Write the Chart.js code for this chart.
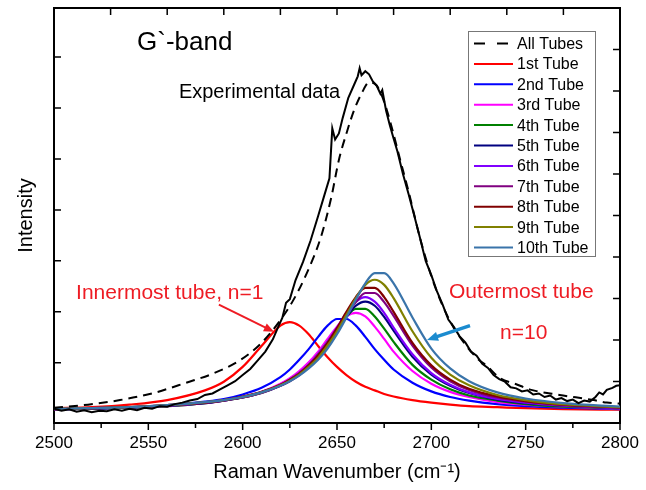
<!DOCTYPE html>
<html>
<head>
<meta charset="utf-8">
<script src="https://cdn.jsdelivr.net/npm/chart.js@4.4.1/dist/chart.umd.min.js"></script>
<style>
  html, body { margin: 0; padding: 0; background: #fff; }
  canvas { display: block; }
</style>
</head>
<body>
<canvas id="chart" width="646" height="490"></canvas>
<script>
// Wavenumber grid (cm-1) of the fitted tube components
const tubeWavenumbers = [2500, 2520, 2540, 2560, 2580, 2590, 2600, 2610, 2620, 2625, 2630, 2635, 2640, 2645, 2650,
  2655, 2660, 2665, 2670, 2675, 2680, 2690, 2700, 2710, 2720, 2735, 2750, 2770, 2800]

const tube1 = [0.11, 0.13, 0.18, 0.27, 0.46, 0.63, 0.92, 1.33, 1.73, 1.80, 1.73, 1.56, 1.33, 1.11, 0.92, 0.76, 0.63, 0.53, 0.46, 0.39, 0.34, 0.27, 0.22, 0.18, 0.15, 0.13, 0.11, 0.09, 0.08]
const tube2 = [0.09, 0.10, 0.13, 0.17, 0.24, 0.29, 0.38, 0.51, 0.72, 0.87, 1.06, 1.27, 1.51, 1.73, 1.86, 1.86, 1.73, 1.51, 1.27, 1.06, 0.87, 0.61, 0.44, 0.33, 0.26, 0.19, 0.15, 0.12, 0.09]
const tube3 = [0.09, 0.10, 0.12, 0.15, 0.21, 0.26, 0.33, 0.43, 0.59, 0.70, 0.84, 1.01, 1.22, 1.47, 1.71, 1.91, 1.98, 1.91, 1.71, 1.47, 1.22, 0.84, 0.59, 0.43, 0.33, 0.23, 0.18, 0.14, 0.10]
const tube4 = [0.09, 0.10, 0.12, 0.15, 0.21, 0.26, 0.32, 0.42, 0.56, 0.67, 0.80, 0.96, 1.17, 1.41, 1.67, 1.91, 2.06, 2.06, 1.91, 1.67, 1.41, 0.96, 0.67, 0.48, 0.36, 0.26, 0.19, 0.14, 0.11]
const tube5 = [0.09, 0.10, 0.12, 0.16, 0.21, 0.26, 0.32, 0.41, 0.55, 0.65, 0.77, 0.93, 1.12, 1.36, 1.63, 1.90, 2.12, 2.20, 2.12, 1.90, 1.63, 1.12, 0.77, 0.55, 0.41, 0.28, 0.21, 0.16, 0.11]
const tube6 = [0.09, 0.11, 0.13, 0.16, 0.22, 0.27, 0.33, 0.42, 0.57, 0.67, 0.80, 0.96, 1.17, 1.41, 1.69, 1.98, 2.20, 2.29, 2.20, 1.98, 1.69, 1.17, 0.80, 0.57, 0.42, 0.29, 0.22, 0.16, 0.11]
const tube7 = [0.09, 0.11, 0.13, 0.16, 0.22, 0.26, 0.32, 0.41, 0.55, 0.64, 0.76, 0.91, 1.10, 1.34, 1.62, 1.92, 2.19, 2.37, 2.37, 2.19, 1.92, 1.34, 0.91, 0.64, 0.47, 0.32, 0.24, 0.17, 0.12]
const tube8 = [0.09, 0.11, 0.13, 0.17, 0.22, 0.27, 0.34, 0.43, 0.57, 0.67, 0.79, 0.95, 1.15, 1.39, 1.68, 2.00, 2.29, 2.47, 2.47, 2.29, 2.00, 1.39, 0.95, 0.67, 0.49, 0.34, 0.25, 0.18, 0.12]
const tube9 = [0.10, 0.11, 0.13, 0.17, 0.23, 0.27, 0.33, 0.42, 0.56, 0.65, 0.77, 0.92, 1.10, 1.34, 1.62, 1.94, 2.27, 2.53, 2.63, 2.53, 2.27, 1.62, 1.10, 0.77, 0.56, 0.37, 0.27, 0.19, 0.13]
const tube10 = [0.10, 0.11, 0.13, 0.17, 0.23, 0.27, 0.33, 0.42, 0.55, 0.64, 0.75, 0.89, 1.06, 1.28, 1.56, 1.89, 2.24, 2.56, 2.76, 2.76, 2.56, 1.89, 1.28, 0.89, 0.64, 0.42, 0.30, 0.21, 0.14]

const tubeValues = [tube1, tube2, tube3, tube4, tube5, tube6, tube7, tube8, tube9, tube10]
const tubeLabels = ["1st Tube", "2nd Tube", "3rd Tube", "4th Tube", "5th Tube", "6th Tube", "7th Tube", "8th Tube", "9th Tube", "10th Tube"]
const tubeColors = ["#ff0000", "#0000ff", "#ff00ff", "#008000", "#000080", "#8000ff", "#800080", "#800000", "#808000", "#3a74aa"]

// Sum of all tube components (dashed)
const sumWavenumbers = [2500, 2518, 2535, 2553, 2570, 2585, 2599, 2610, 2620, 2627, 2634, 2641.5, 2647, 2651, 2655, 2659, 2663, 2667,
  2671, 2675, 2679, 2683, 2688, 2694, 2700, 2706, 2712, 2718, 2724, 2730, 2736, 2745, 2753, 2768, 2786, 2793, 2800]
const sumIntensity = [0.12, 0.18, 0.27, 0.41, 0.61, 0.80, 1.06, 1.39, 1.84, 2.24, 2.76, 3.47, 4.25, 4.98, 5.50, 5.95, 6.28, 6.50,
  6.44, 6.12, 5.62, 5.05, 4.35, 3.45, 2.70, 2.12, 1.68, 1.36, 1.10, 0.92, 0.71, 0.58, 0.47, 0.37, 0.27, 0.22, 0.20]

// Measured spectrum
const expWavenumbers = [2500, 2504, 2508, 2512, 2516, 2520, 2524, 2528, 2532, 2536, 2540, 2544, 2548, 2552, 2556, 2560, 2564, 2568,
  2572, 2576, 2580, 2584, 2588, 2592, 2596, 2600, 2604, 2608, 2612, 2616, 2619, 2621, 2623, 2625, 2628, 2632, 2636, 2640, 2643, 2646,
  2647.5, 2649, 2651, 2653, 2656, 2659, 2661, 2662, 2663, 2665, 2667, 2669, 2671, 2673, 2674, 2676, 2678, 2680, 2682, 2685, 2688,
  2691, 2694, 2697, 2700, 2703, 2706, 2709, 2712, 2715, 2718, 2721, 2724, 2727, 2730, 2733, 2736, 2739, 2742, 2745, 2748, 2751,
  2754, 2757, 2760, 2763, 2766, 2769, 2772, 2775, 2778, 2781, 2784, 2787, 2789, 2791, 2793, 2796, 2798, 2800]
const expIntensity = [0.10, 0.06, 0.09, 0.04, 0.07, 0.03, 0.06, 0.05, 0.09, 0.06, 0.10, 0.07, 0.12, 0.10, 0.15, 0.14, 0.19, 0.22,
  0.26, 0.29, 0.37, 0.40, 0.48, 0.56, 0.64, 0.76, 0.88, 1.05, 1.22, 1.46, 1.72, 1.88, 2.18, 2.25, 2.62, 2.98, 3.40, 3.88, 4.25, 4.62,
  5.60, 5.38, 5.50, 5.80, 6.20, 6.45, 6.62, 6.78, 6.64, 6.72, 6.66, 6.52, 6.44, 6.28, 6.35, 5.95, 5.66, 5.40, 5.15, 4.70, 4.30,
  3.88, 3.45, 3.00, 2.72, 2.40, 2.14, 1.85, 1.70, 1.52, 1.40, 1.22, 1.14, 0.98, 0.90, 0.76, 0.68, 0.63, 0.52, 0.50, 0.44, 0.46,
  0.38, 0.40, 0.33, 0.36, 0.28, 0.31, 0.25, 0.28, 0.21, 0.26, 0.24, 0.33, 0.42, 0.38, 0.47, 0.51, 0.55, 0.56]

const FONT = "'Liberation Sans', Arial, sans-serif"

const toPoints = (xs, ys) => xs.map((x, i) => ({ x, y: ys[i] }))

const datasets = [
  { label: "Experimental data", data: toPoints(expWavenumbers, expIntensity), borderColor: "#000", borderWidth: 2, tension: 0, order: 0 },
  { label: "All Tubes", data: toPoints(sumWavenumbers, sumIntensity), borderColor: "#000", borderWidth: 2,
    borderDash: [9, 6], cubicInterpolationMode: "monotone", order: 1, inLegend: true, legendDash: [11, 12] }
]
tubeValues.forEach((values, i) => {
  datasets.push({
    label: tubeLabels[i], data: toPoints(tubeWavenumbers, values), borderColor: tubeColors[i], borderWidth: 2.2,
    cubicInterpolationMode: "monotone", order: 12 - i, inLegend: true
  })
})

// Origin-style tick marks: outward on the bottom axis, inward on the others
const tickMarks = {
  id: "tickMarks",
  afterDraw(chart) {
    const { ctx, chartArea: a, scales } = chart
    ctx.save()
    ctx.strokeStyle = "#000"
    ctx.lineWidth = 1.5
    ctx.beginPath()
    scales.x.ticks.forEach(t => {
      const px = scales.x.getPixelForValue(t.value)
      const len = t.value % 50 === 0 ? 7 : 5
      ctx.moveTo(px, a.bottom)
      ctx.lineTo(px, a.bottom + len)
    })
    scales.x2.ticks.forEach(t => {
      if (t.value <= scales.x2.min || t.value >= scales.x2.max) return
      const px = scales.x2.getPixelForValue(t.value)
      ctx.moveTo(px, a.top)
      ctx.lineTo(px, a.top + 7)
    })
    scales.y.ticks.forEach(t => {
      if (!Number.isInteger(t.value) || t.value < 1) return
      const py = scales.y.getPixelForValue(t.value)
      ctx.moveTo(a.left, py)
      ctx.lineTo(a.left + 7, py)
    })
    scales.y2.ticks.forEach(t => {
      if (t.value <= scales.y2.min || t.value >= scales.y2.max) return
      const py = scales.y2.getPixelForValue(t.value)
      ctx.moveTo(a.right, py)
      ctx.lineTo(a.right - 7, py)
    })
    ctx.stroke()
    ctx.restore()
  }
}

// Boxed legend in the upper right corner of the plot
const boxLegend = {
  id: "boxLegend",
  afterDatasetsDraw(chart) {
    const { ctx, chartArea: a } = chart
    const items = chart.data.datasets.filter(d => d.inLegend)
    const left = a.right - 152
    const top = a.top + 23
    const rowH = 20.4
    ctx.save()
    ctx.fillStyle = "#fff"
    ctx.fillRect(left, top, 127, 225)
    ctx.strokeStyle = "#777"
    ctx.lineWidth = 1
    ctx.strokeRect(left + 0.5, top + 0.5, 127, 225)
    ctx.font = "16px " + FONT
    ctx.textBaseline = "middle"
    items.forEach((d, i) => {
      const y = top + 12.5 + i * rowH
      ctx.strokeStyle = d.borderColor
      ctx.lineWidth = 2
      ctx.setLineDash(d.legendDash || [])
      ctx.beginPath()
      ctx.moveTo(left + 6, y)
      ctx.lineTo(left + 45, y)
      ctx.stroke()
      ctx.setLineDash([])
      ctx.fillStyle = "#000"
      ctx.fillText(d.label, left + 49, y + 1)
    })
    ctx.restore()
  }
}

function arrow(ctx, x1, y1, x2, y2, color, width, head) {
  const ang = Math.atan2(y2 - y1, x2 - x1)
  ctx.strokeStyle = color
  ctx.fillStyle = color
  ctx.lineWidth = width
  ctx.beginPath()
  ctx.moveTo(x1, y1)
  ctx.lineTo(x2 - Math.cos(ang) * head * 0.8, y2 - Math.sin(ang) * head * 0.8)
  ctx.stroke()
  ctx.beginPath()
  ctx.moveTo(x2, y2)
  ctx.lineTo(x2 - head * Math.cos(ang - 0.4), y2 - head * Math.sin(ang - 0.4))
  ctx.lineTo(x2 - head * Math.cos(ang + 0.4), y2 - head * Math.sin(ang + 0.4))
  ctx.closePath()
  ctx.fill()
}

// Text labels and arrows, placed in data coordinates
const annotations = {
  id: "annotations",
  afterDatasetsDraw(chart) {
    const { ctx, scales: { x, y } } = chart
    const X = v => x.getPixelForValue(v)
    const Y = v => y.getPixelForValue(v)
    ctx.save()
    ctx.textBaseline = "middle"
    ctx.fillStyle = "#000"
    ctx.font = "26px " + FONT
    ctx.fillText("G`-band", X(2544), Y(7.27))
    ctx.font = "20px " + FONT
    ctx.fillText("Experimental data", X(2566.2), Y(6.31))
    ctx.fillStyle = "#ee1c24"
    ctx.font = "21px " + FONT
    ctx.fillText("Innermost tube, n=1", X(2511.7), Y(2.37))
    ctx.fillText("Outermost tube", X(2709.3), Y(2.39))
    ctx.fillText("n=10", X(2736.4), Y(1.59))
    arrow(ctx, X(2587.4), Y(2.14), X(2616.6), Y(1.61), "#ee1c24", 2, 11)
    arrow(ctx, X(2720.5), Y(1.73), X(2697.7), Y(1.45), "#1b8bcf", 3.5, 12)
    ctx.restore()
  }
}

const axisBorder = { display: true, color: "#000", width: 2 }

new Chart(document.getElementById("chart"), {
  type: "line",
  data: { datasets },
  options: {
    responsive: false,
    animation: false,
    layout: { padding: 0 },
    elements: { point: { radius: 0 } },
    plugins: { legend: { display: false }, tooltip: { enabled: false } },
    scales: {
      x: {
        type: "linear", position: "bottom", min: 2500, max: 2800,
        grid: { display: false }, border: axisBorder,
        ticks: {
          stepSize: 25, autoSkip: false, maxRotation: 0, padding: 2, color: "#000",
          font: { family: FONT, size: 17 },
          callback: v => (v % 50 === 0 ? String(v) : "")
        },
        title: { display: true, text: "Raman Wavenumber (cm⁻¹)", color: "#000", font: { family: FONT, size: 20 }, padding: { top: 0, bottom: 6 } },
        afterFit: s => { s.height = 67 }
      },
      x2: {
        type: "linear", position: "top", min: 2500, max: 2800,
        grid: { display: false }, border: axisBorder,
        ticks: { stepSize: 30, display: false },
        afterFit: s => { s.height = 8 }
      },
      y: {
        type: "linear", position: "left", min: -0.18, max: 7.96,
        grid: { display: false }, border: axisBorder,
        ticks: { stepSize: 1, display: false },
        title: { display: true, text: "Intensity", color: "#000", font: { family: FONT, size: 20 }, padding: { top: 14, bottom: 0 } },
        afterFit: s => { s.width = 54 }
      },
      y2: {
        type: "linear", position: "right", min: 0, max: 10,
        grid: { display: false }, border: axisBorder,
        ticks: { stepSize: 1, display: false },
        afterFit: s => { s.width = 26 }
      }
    }
  },
  plugins: [tickMarks, boxLegend, annotations]
})
</script>
</body>
</html>
